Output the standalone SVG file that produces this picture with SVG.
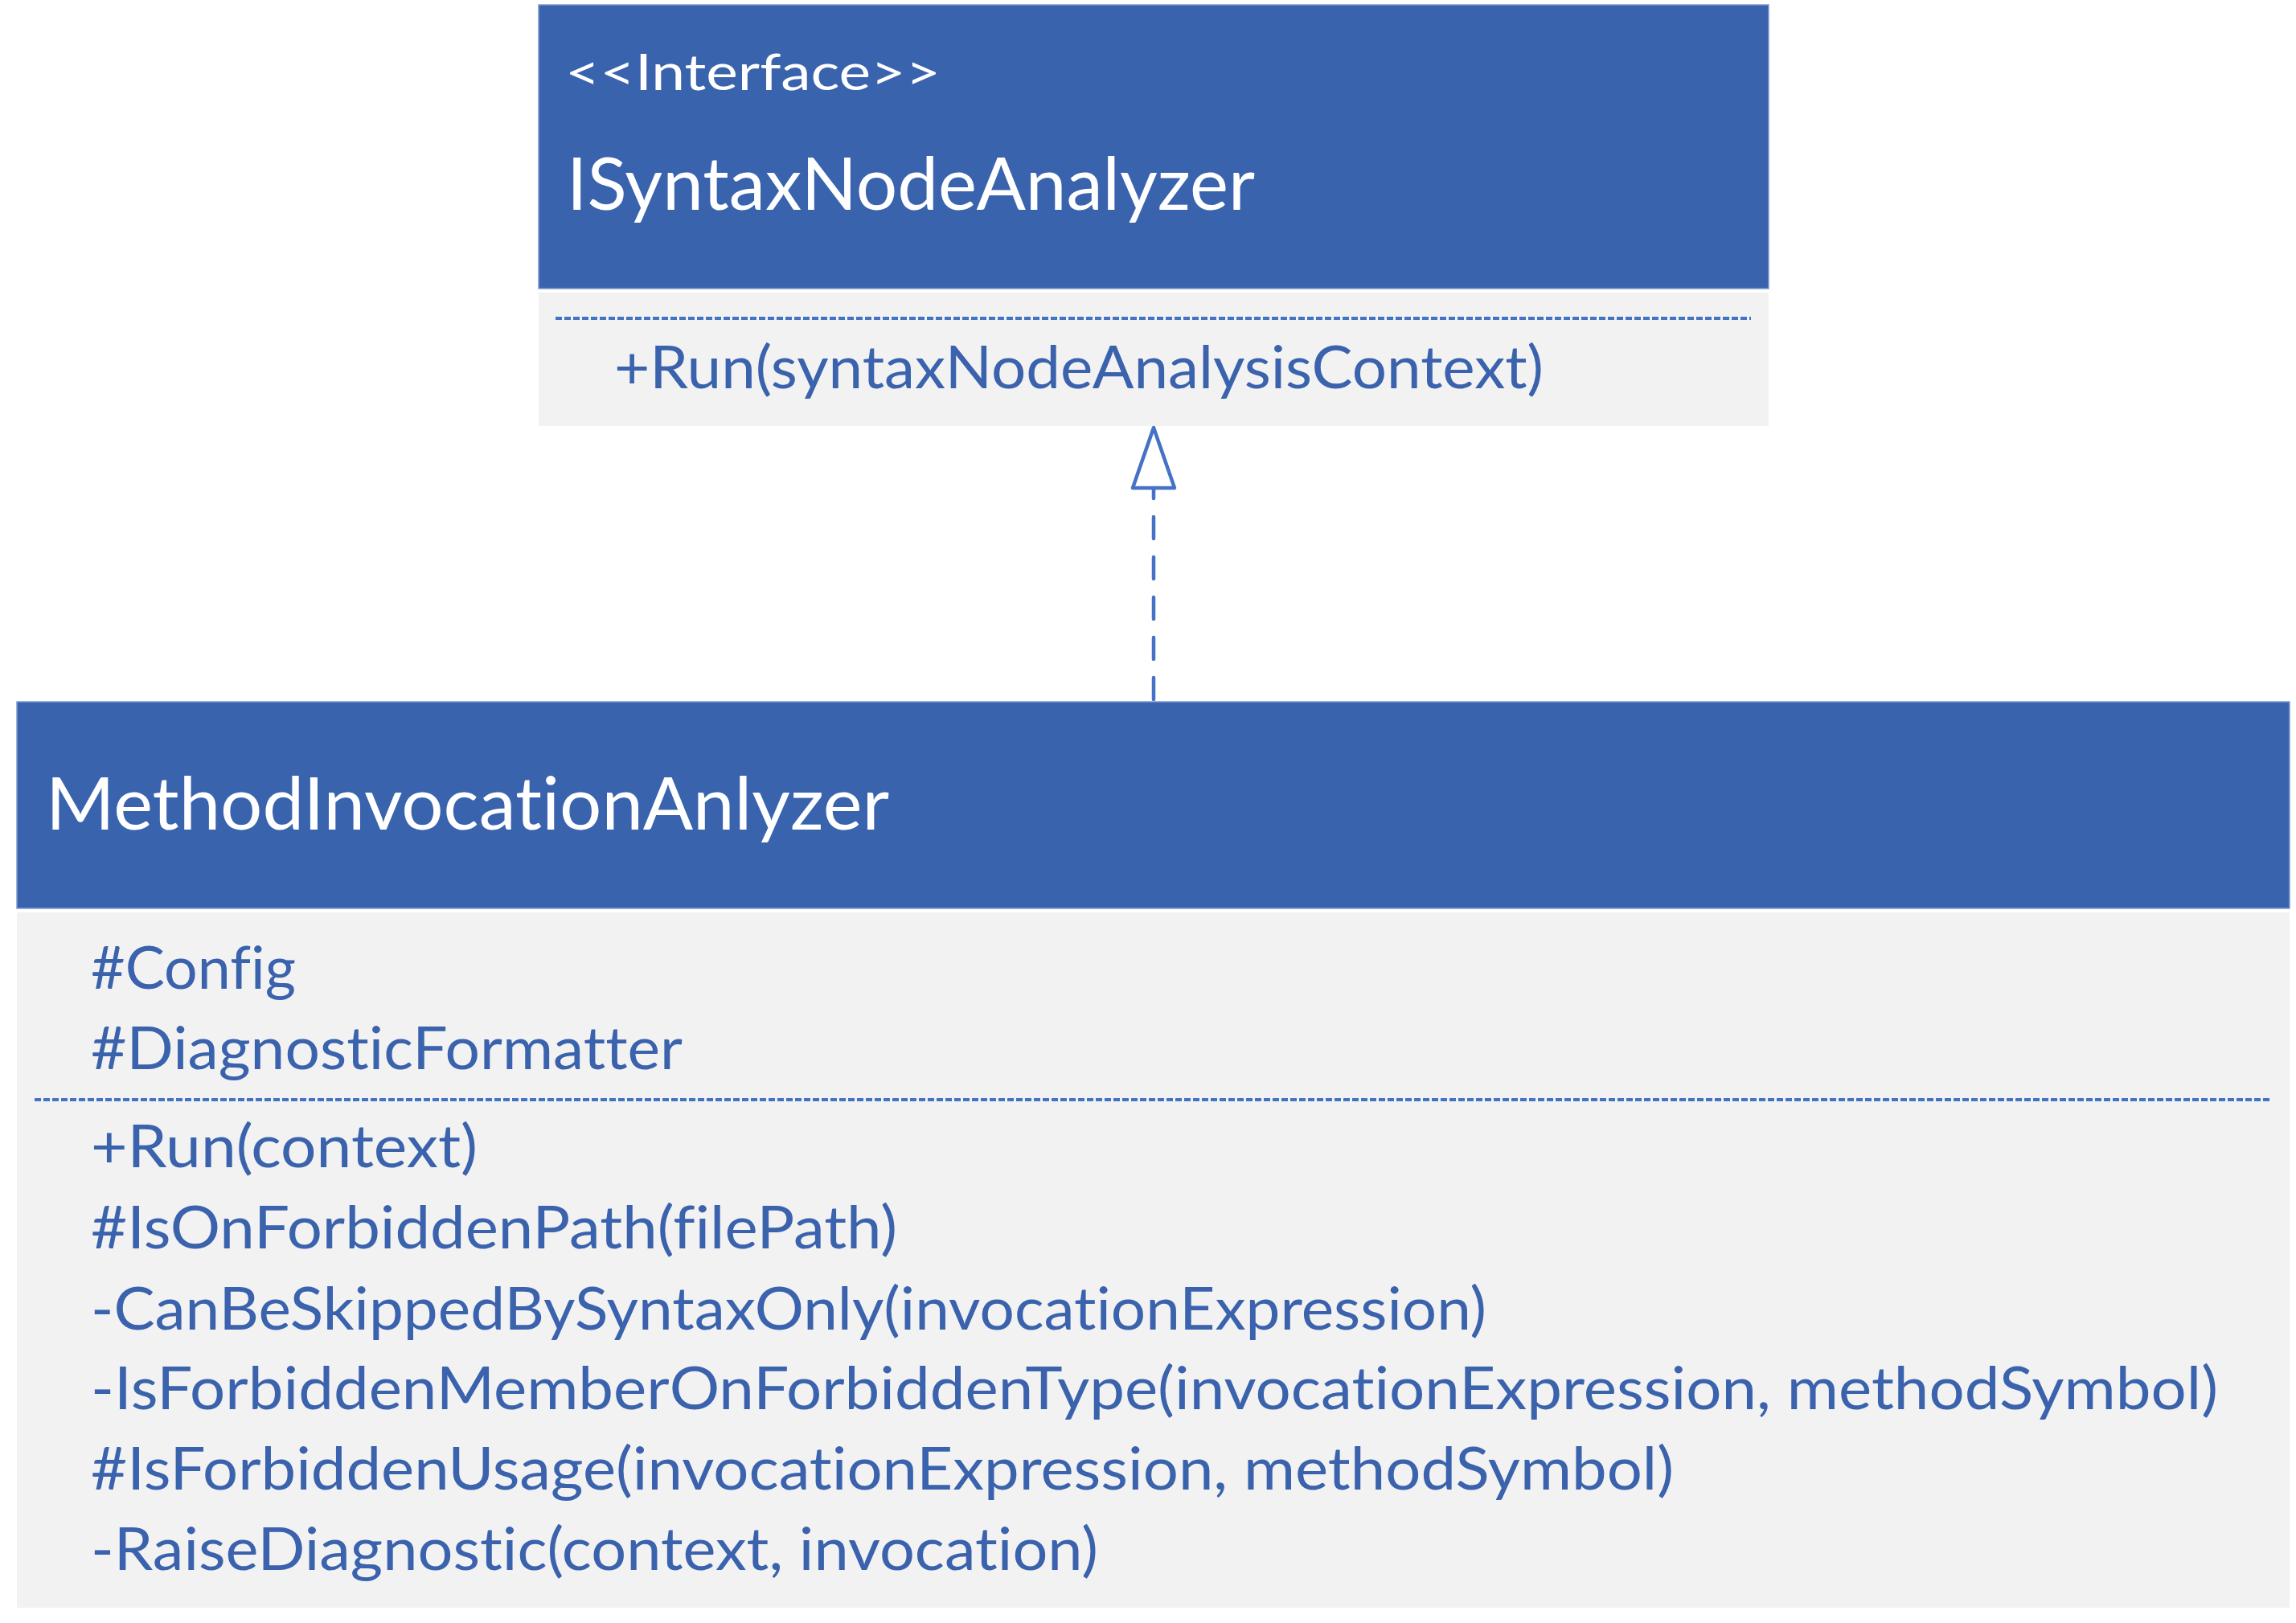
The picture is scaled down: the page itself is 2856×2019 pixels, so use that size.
<svg xmlns="http://www.w3.org/2000/svg" width="2856" height="2019" viewBox="0 0 2856 2019">
<style>
.hdr{fill:#3A63AE;stroke:#7F9BD0;stroke-width:1.5}
.body{fill:#F2F2F2}
.t{font-family:Lato,"Open Sans","Liberation Sans",sans-serif;font-variant-ligatures:none;font-feature-settings:"liga" 0,"dlig" 0,"clig" 0}
.white{fill:#FFFFFF}
.blue{fill:#3A62AD}
.title{font-size:92px}
.stereo{font-size:61px}
.mem{font-size:74px}
.sep{stroke:#4472C4;stroke-width:4;stroke-dasharray:8 3;fill:none}
.conn{stroke:#4472C4;stroke-width:4.5;fill:none;stroke-linecap:round}
</style>
<rect width="2856" height="2019" fill="#FFFFFF"/>
<g id="ISyntaxNodeAnalyzer">
<rect class="hdr" x="670" y="6" width="1530" height="353"/>
<rect class="body" x="670" y="364" width="1530" height="166"/>
<text class="t white stereo" x="703" y="112" textLength="467" lengthAdjust="spacingAndGlyphs">&lt;&lt;Interface&gt;&gt;</text>
<text class="t white title" x="705" y="261" textLength="856" lengthAdjust="spacingAndGlyphs">ISyntaxNodeAnalyzer</text>
<line class="sep" x1="691" y1="396" x2="2178" y2="396"/>
<text class="t blue mem" x="764" y="483" textLength="1156" lengthAdjust="spacingAndGlyphs">+Run(syntaxNodeAnalysisContext)</text>
</g>
<g id="MethodInvocationAnlyzer">
<rect class="hdr" x="21" y="873" width="2827" height="257"/>
<rect class="body" x="21" y="1135" width="2827" height="865"/>
<text class="t white title" x="57" y="1032" textLength="1049" lengthAdjust="spacingAndGlyphs">MethodInvocationAnlyzer</text>
<text class="t blue mem" x="113" y="1230" textLength="255" lengthAdjust="spacingAndGlyphs">#Config</text>
<text class="t blue mem" x="113" y="1330" textLength="736" lengthAdjust="spacingAndGlyphs">#DiagnosticFormatter</text>
<line class="sep" x1="43" y1="1368" x2="2823" y2="1368"/>
<text class="t blue mem" x="113" y="1452" textLength="481" lengthAdjust="spacingAndGlyphs">+Run(context)</text>
<text class="t blue mem" x="113" y="1553" textLength="1003" lengthAdjust="spacingAndGlyphs">#IsOnForbiddenPath(filePath)</text>
<text class="t blue mem" x="113" y="1654" textLength="1736" lengthAdjust="spacingAndGlyphs">-CanBeSkippedBySyntaxOnly(invocationExpression)</text>
<text class="t blue mem" x="113" y="1753" textLength="2646" lengthAdjust="spacingAndGlyphs">-IsForbiddenMemberOnForbiddenType(invocationExpression, methodSymbol)</text>
<text class="t blue mem" x="113" y="1853" textLength="1969" lengthAdjust="spacingAndGlyphs">#IsForbiddenUsage(invocationExpression, methodSymbol)</text>
<text class="t blue mem" x="113" y="1953" textLength="1253" lengthAdjust="spacingAndGlyphs">-RaiseDiagnostic(context, invocation)</text>
</g>
<g id="connectors">
<line class="conn" x1="1435" y1="870" x2="1435" y2="607" stroke-dasharray="27 23"/>
<polygon class="conn" stroke-linejoin="round" points="1435,532 1461,607 1409,607"/>
</g>
</svg>
